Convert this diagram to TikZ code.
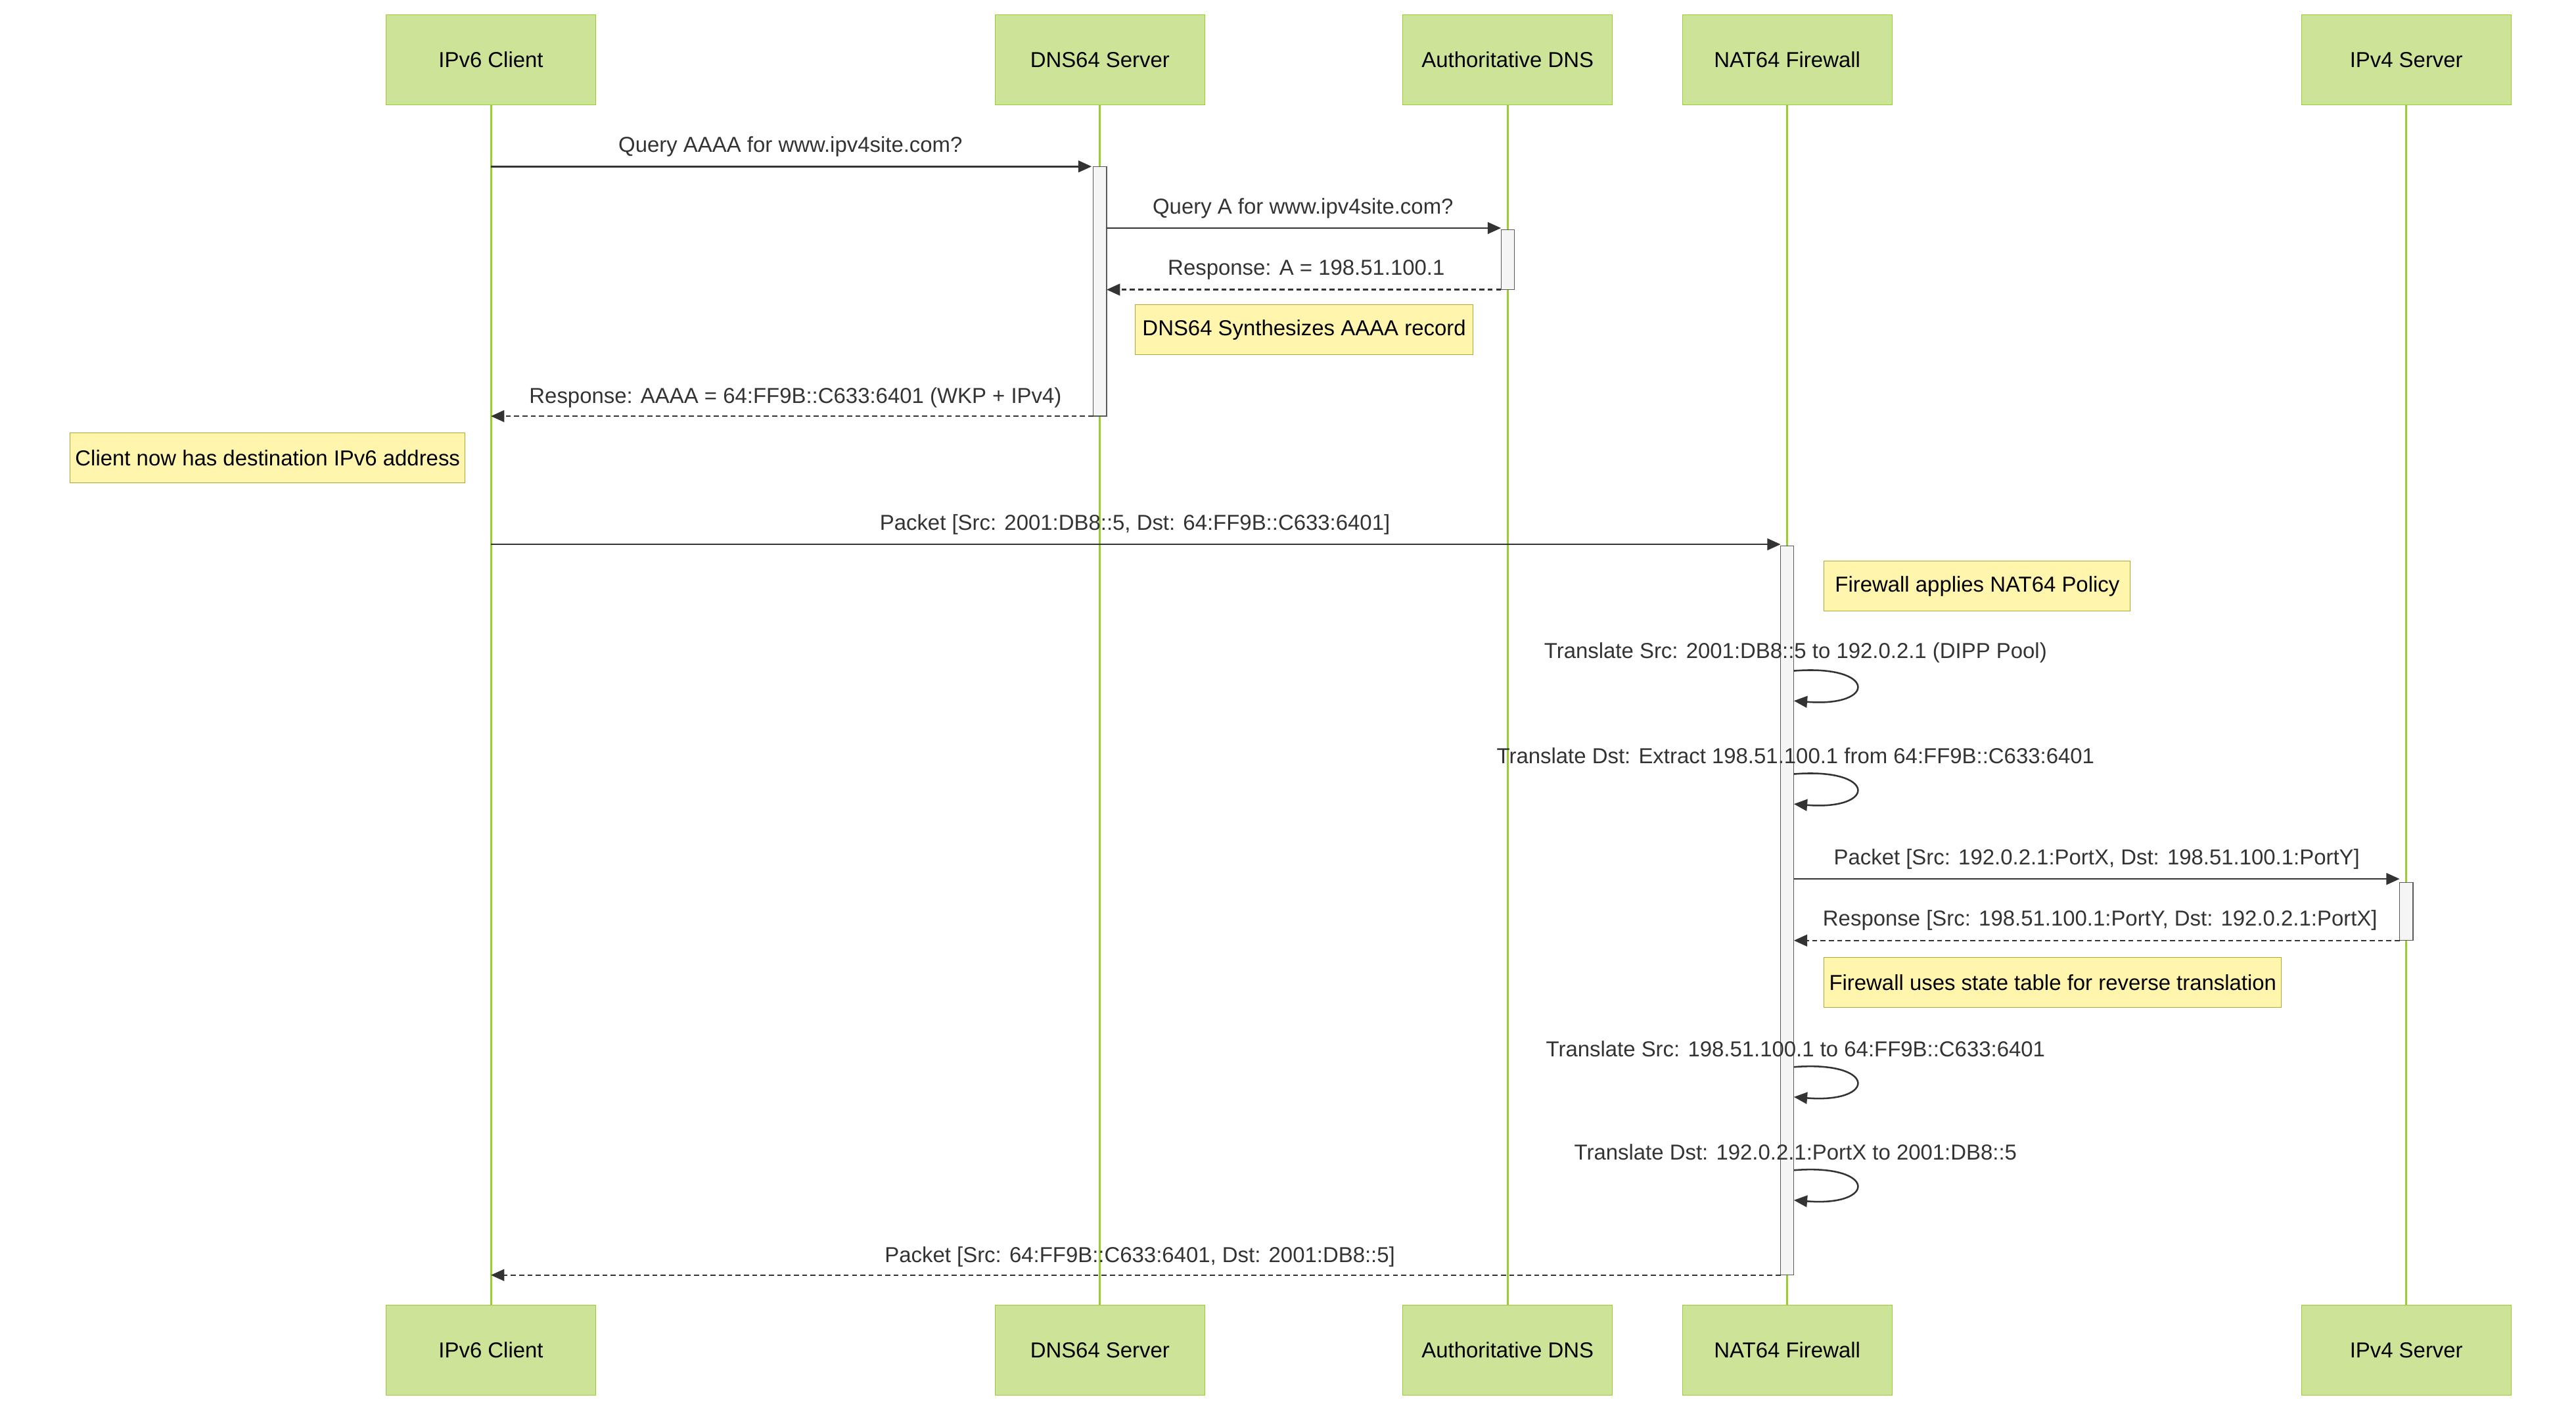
\documentclass[tikz,border=0pt]{standalone}
\usepackage{fontspec}
\setmainfont{Liberation Sans}
\usetikzlibrary{arrows.meta}
\definecolor{actfill}{HTML}{CDE498}
\definecolor{actline}{HTML}{9ACD32}
\definecolor{notefill}{HTML}{FFF5AD}
\definecolor{noteline}{HTML}{AAAA33}
\definecolor{msg}{HTML}{333333}
\begin{document}
\begin{tikzpicture}[x=1pt,y=-1pt,
 actor/.style={draw=actline,fill=actfill,minimum width=126pt,minimum height=54pt,font=\fontsize{13}{15}\selectfont,inner sep=0pt},
 note/.style={draw=noteline,fill=notefill,anchor=north west,minimum height=30pt,font=\fontsize{13}{15}\selectfont,inner sep=3pt},
 life/.style={draw=actline,line width=1.2pt},
 actbar/.style={draw=gray!70!black,fill=gray!8,line width=0.5pt},
 m/.style={draw=msg,line width=1pt,-{Triangle[length=8pt,width=7pt]}},
 r/.style={m,dash pattern=on 3pt off 2pt},
 lbl/.style={font=\fontsize{13}{15}\selectfont,text=msg,inner sep=0pt}]
\useasboundingbox (0,0) rectangle (1548,847);
\foreach \n/\x/\t in {a/295/IPv6 Client,b/661/DNS64 Server,c/906/Authoritative DNS,d/1074/NAT64 Firewall,e/1446/IPv4 Server}{
 \node[actor] (\n top) at (\x,36) {\t};
 \node[actor] (\n bot) at (\x,811) {\t};
 \draw[life] (\n top.south) -- (\n bot.north);
}
\draw[actbar] (657,100) rectangle (665,250);
\draw[actbar] (902,138) rectangle (910,174);
\draw[actbar] (1070,328) rectangle (1078,766);
\draw[actbar] (1442,530) rectangle (1450,565);
% messages
\coordinate (m1s) at (295,100); \coordinate (m1e) at (656,100);
\draw[m] (m1s) -- (m1e);
\node[lbl] at (475,88) {Query AAAA for www.ipv4site.com?};
\coordinate (m2s) at (665,137); \coordinate (m2e) at (902,137);
\draw[m] (m2s) -- (m2e);
\node[lbl] at (783,125) {Query A for www.ipv4site.com?};
\coordinate (m3s) at (902,174); \coordinate (m3e) at (665,174);
\draw[r] (m3s) -- (m3e);
\node[lbl] at (785,162) {Response: A = 198.51.100.1};
\node[note,minimum width=203pt] (n1) at (682,183) {DNS64 Synthesizes AAAA record};
\coordinate (m4s) at (657,250); \coordinate (m4e) at (295,250);
\draw[r] (m4s) -- (m4e);
\node[lbl] at (478,239) {Response: AAAA = 64:FF9B::C633:6401 (WKP + IPv4)};
\node[note,minimum width=232pt] (n2) at (42,260) {Client now has destination IPv6 address};
\coordinate (m5s) at (295,327); \coordinate (m5e) at (1070,327);
\draw[m] (m5s) -- (m5e);
\node[lbl] at (682,315) {Packet [Src: 2001:DB8::5, Dst: 64:FF9B::C633:6401]};
\node[note,minimum width=184pt] (n3) at (1096,337) {Firewall applies NAT64 Policy};
\foreach \y/\t in {403/{Translate Src: 2001:DB8::5 to 192.0.2.1 (DIPP Pool)},465/{Translate Dst: Extract 198.51.100.1 from 64:FF9B::C633:6401},641/{Translate Src: 198.51.100.1 to 64:FF9B::C633:6401},703/{Translate Dst: 192.0.2.1:PortX to 2001:DB8::5}}{
 \coordinate (ls\y) at (1078,\y);
 \coordinate (le\y) at (1078,\y+18);
 \draw[m] (ls\y) .. controls (1128,\y-4) and (1128,\y+22) .. (le\y);
 \node[lbl] at (1079,\y-11) {\t};
}
\coordinate (m6s) at (1078,528); \coordinate (m6e) at (1442,528);
\draw[m] (m6s) -- (m6e);
\node[lbl] at (1260,516) {Packet [Src: 192.0.2.1:PortX, Dst: 198.51.100.1:PortY]};
\coordinate (m7s) at (1442,565); \coordinate (m7e) at (1078,565);
\draw[r] (m7s) -- (m7e);
\node[lbl] at (1262,553) {Response [Src: 198.51.100.1:PortY, Dst: 192.0.2.1:PortX]};
\node[note,minimum width=267pt] (n4) at (1096,575) {Firewall uses state table for reverse translation};
\coordinate (m8s) at (1070,766); \coordinate (m8e) at (295,766);
\draw[r] (m8s) -- (m8e);
\node[lbl] at (685,755) {Packet [Src: 64:FF9B::C633:6401, Dst: 2001:DB8::5]};
\end{tikzpicture}
\end{document}
